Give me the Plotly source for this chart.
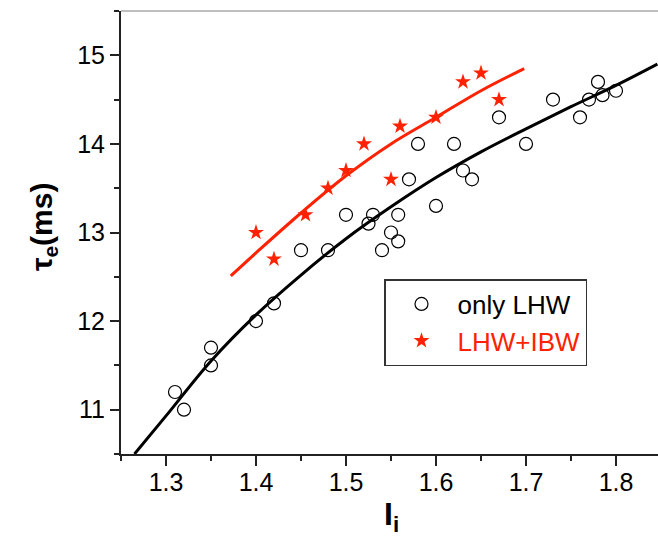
import plotly.graph_objects as go

# ---- data ----
lhw_x = [1.31, 1.32, 1.35, 1.35, 1.40, 1.42, 1.45, 1.48, 1.50, 1.525, 1.53, 1.54, 1.55,
         1.558, 1.558, 1.57, 1.58, 1.60, 1.62, 1.63, 1.64, 1.67, 1.70, 1.73, 1.76, 1.77,
         1.78, 1.785, 1.80]
lhw_y = [11.2, 11.0, 11.7, 11.5, 12.0, 12.2, 12.8, 12.8, 13.2, 13.1, 13.2, 12.8, 13.0,
         12.9, 13.2, 13.6, 14.0, 13.3, 14.0, 13.7, 13.6, 14.3, 14.0, 14.5, 14.3, 14.5,
         14.7, 14.55, 14.6]

ibw_x = [1.40, 1.42, 1.455, 1.48, 1.50, 1.52, 1.55, 1.56, 1.60, 1.63, 1.65, 1.67]
ibw_y = [13.0, 12.7, 13.2, 13.5, 13.7, 14.0, 13.6, 14.2, 14.3, 14.7, 14.8, 14.5]

fit_lhw_x = [1.265, 1.30, 1.35, 1.40, 1.45, 1.50, 1.55, 1.60, 1.65, 1.70, 1.75, 1.80, 1.846]
fit_lhw_y = [10.50, 10.93, 11.55, 12.07, 12.52, 12.93, 13.29, 13.62, 13.91, 14.17, 14.42, 14.66, 14.90]

fit_ibw_x = [1.372, 1.40, 1.45, 1.50, 1.55, 1.60, 1.65, 1.698]
fit_ibw_y = [12.51, 12.77, 13.22, 13.64, 14.00, 14.30, 14.60, 14.85]

x_ticks = [1.3, 1.4, 1.5, 1.6, 1.7, 1.8]
y_ticks = [11, 12, 13, 14, 15]

RED = "#ff2200"
FONT = "Arial, Liberation Sans, sans-serif"

fig = go.Figure()
fig.add_trace(go.Scatter(x=fit_lhw_x, y=fit_lhw_y, mode="lines", line=dict(color="black", width=3, shape="spline"),
                         showlegend=False, hoverinfo="skip"))
fig.add_trace(go.Scatter(x=fit_ibw_x, y=fit_ibw_y, mode="lines", line=dict(color=RED, width=3, shape="spline"),
                         showlegend=False, hoverinfo="skip"))
fig.add_trace(go.Scatter(x=lhw_x, y=lhw_y, mode="markers", name="only LHW",
                         marker=dict(symbol="circle-open", size=13, color="black", line=dict(width=1.2, color="black"))))
fig.add_trace(go.Scatter(x=ibw_x, y=ibw_y, mode="markers",
                         name=f"<span style='color:{RED}'>LHW+IBW</span>",
                         marker=dict(symbol="star", size=12, color=RED, line=dict(width=0))))

fig.update_layout(
    width=658, height=538,
    margin=dict(l=121, r=0, t=11, b=84),
    paper_bgcolor="white", plot_bgcolor="white",
    font=dict(family=FONT, size=25, color="black"),
    showlegend=True,
    legend=dict(x=(384 - 121) / 537, y=(454 - 279) / 443, xanchor="left", yanchor="top",
                bgcolor="white", bordercolor="#333", borderwidth=1.5,
                font=dict(family=FONT, size=26, color="black"), itemwidth=62),
    xaxis=dict(range=[1.25, 1.25 + 537 / 900], tickvals=x_ticks, ticktext=[str(v) for v in x_ticks],
               showgrid=False, zeroline=False, showline=True, linecolor="#222", linewidth=2,
               ticks="outside", ticklen=10, tickwidth=1.5, tickcolor="#222",
               ticklabelstandoff=-5,
               minor=dict(ticks="outside", ticklen=5, tickwidth=1.5, tickcolor="#222", dtick=0.05, tick0=1.25),
               tickfont=dict(size=25)),
    yaxis=dict(range=[10.5, 15.5], tickvals=y_ticks, ticktext=[str(v) for v in y_ticks],
               showgrid=False, zeroline=False, showline=True, linecolor="#222", linewidth=2,
               ticks="outside", ticklen=9, tickwidth=1.5, tickcolor="#222",
               minor=dict(ticks="outside", ticklen=5, tickwidth=1.5, tickcolor="#222", dtick=0.5, tick0=10.5),
               tickfont=dict(size=25)),
    shapes=[dict(type="line", xref="paper", yref="paper", x0=0, x1=1, y0=1, y1=1,
                 line=dict(color="#808080", width=1.2))],
    annotations=[
        dict(text="<b>τ<sub>e</sub>(ms)</b>", xref="paper", yref="paper", x=(43.5 - 121) / 537, y=(454 - 227.5) / 443,
             xanchor="center", yanchor="middle", textangle=-90, showarrow=False,
             font=dict(family=FONT, size=30, color="black")),
        dict(text="<b>I<sub>i</sub></b>", xref="paper", yref="paper", x=(391 - 121) / 537, y=(454 - 516) / 443,
             xanchor="center", yanchor="middle", showarrow=False,
             font=dict(family=FONT, size=32, color="black")),
    ],
)

fig.write_html("out.html")
